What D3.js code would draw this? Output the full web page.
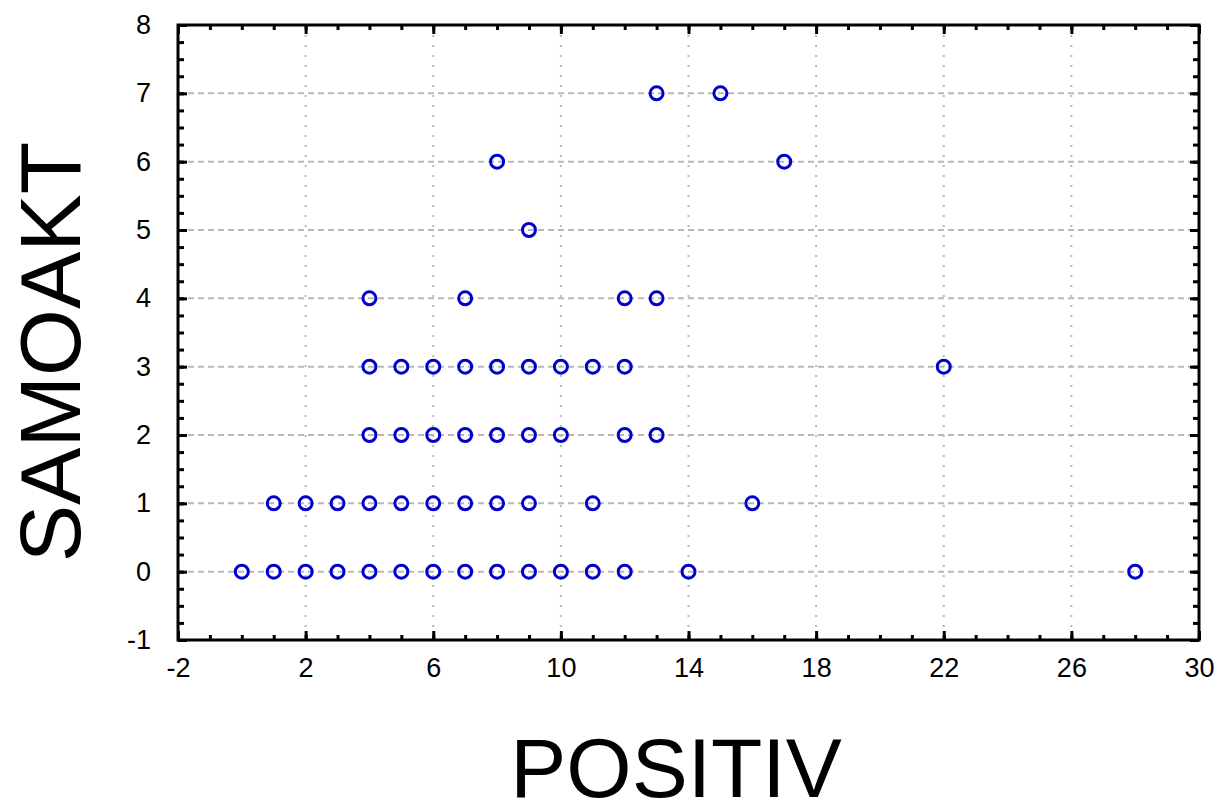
<!DOCTYPE html>
<html lang="en">
<head>
<meta charset="UTF-8">
<title>SAMOAKT vs POSITIV</title>
<script src="https://cdn.jsdelivr.net/npm/d3@7"></script>
<style>
  body { margin: 0; background: #fff; }
  svg { display: block; }
  .tick text { font-family: "Liberation Sans", Arial, sans-serif; font-size: 27px; fill: #000; }
  .tick line { stroke: #000; stroke-width: 3; }
</style>
</head>
<body>
<script>

var w = 1216;
var h = 805;

// POSITIV (x) and SAMOAKT (y) pairs
var positiv = [13, 15,
               8, 17,
               9,
               4, 7, 12, 13,
               4, 5, 6, 7, 8, 9, 10, 11, 12, 22,
               4, 5, 6, 7, 8, 9, 10, 12, 13,
               1, 2, 3, 4, 5, 6, 7, 8, 9, 11, 16,
               0, 1, 2, 3, 4, 5, 6, 7, 8, 9, 10, 11, 12, 14, 28];
var samoakt = [7, 7,
               6, 6,
               5,
               4, 4, 4, 4,
               3, 3, 3, 3, 3, 3, 3, 3, 3, 3,
               2, 2, 2, 2, 2, 2, 2, 2, 2,
               1, 1, 1, 1, 1, 1, 1, 1, 1, 1, 1,
               0, 0, 0, 0, 0, 0, 0, 0, 0, 0, 0, 0, 0, 0, 0];

var xTicks = [-2, 2, 6, 10, 14, 18, 22, 26, 30];
var yTicks = [-1, 0, 1, 2, 3, 4, 5, 6, 7, 8];
var xMinor = d3.range(-2, 30.01, 1);
var yMinor = d3.range(-1, 8.01, 0.25);

var pLeft = 178, pRight = 1199, pTop = 25, pBottom = 640;

var x = d3.scaleLinear().domain([-2, 30]).range([pLeft, pRight]);
var y = d3.scaleLinear().domain([-1, 8]).range([pBottom, pTop]);

var svg = d3.select("body").append("svg")
    .attr("width", w)
    .attr("height", h);

// grid: dashed horizontals, dotted verticals
svg.append("g").selectAll("line")
    .data(yTicks.filter(function(d) { return d > -1 && d < 8; }))
    .enter().append("line")
    .attr("x1", pLeft).attr("x2", pRight)
    .attr("y1", function(d) { return y(d); })
    .attr("y2", function(d) { return y(d); })
    .attr("stroke", "#b8b8b8")
    .attr("stroke-width", 2)
    .attr("stroke-dasharray", "6,4");

svg.append("g").selectAll("line")
    .data(xTicks.filter(function(d) { return d > -2 && d < 30; }))
    .enter().append("line")
    .attr("y1", pTop).attr("y2", pBottom)
    .attr("x1", function(d) { return x(d); })
    .attr("x2", function(d) { return x(d); })
    .attr("stroke", "#b8b8b8")
    .attr("stroke-width", 2)
    .attr("stroke-dasharray", "2,8");

// minor ticks on all four sides (pointing inwards)
function noDomain(g) { g.select(".domain").remove(); }
var label = function(d) { return String(d); };

svg.append("g").attr("transform", "translate(0," + pBottom + ")")
    .call(d3.axisBottom(x).tickValues(xMinor).tickSize(-5).tickFormat("")).call(noDomain);
svg.append("g").attr("transform", "translate(0," + pTop + ")")
    .call(d3.axisTop(x).tickValues(xMinor).tickSize(-5).tickFormat("")).call(noDomain);
svg.append("g").attr("transform", "translate(" + pLeft + ",0)")
    .call(d3.axisLeft(y).tickValues(yMinor).tickSize(-6).tickFormat("")).call(noDomain);
svg.append("g").attr("transform", "translate(" + pRight + ",0)")
    .call(d3.axisRight(y).tickValues(yMinor).tickSize(-6).tickFormat("")).call(noDomain);

// major ticks + labels
svg.append("g").attr("transform", "translate(0," + pBottom + ")")
    .call(d3.axisBottom(x).tickValues(xTicks).tickSize(-9).tickPadding(18).tickFormat(label))
    .call(noDomain);
svg.append("g").attr("transform", "translate(0," + pTop + ")")
    .call(d3.axisTop(x).tickValues(xTicks).tickSize(-9).tickFormat("")).call(noDomain);
svg.append("g").attr("transform", "translate(" + pLeft + ",0)")
    .call(d3.axisLeft(y).tickValues(yTicks).tickSize(-9).tickPadding(27).tickFormat(label))
    .call(noDomain);
svg.append("g").attr("transform", "translate(" + pRight + ",0)")
    .call(d3.axisRight(y).tickValues(yTicks).tickSize(-9).tickFormat("")).call(noDomain);

// frame
svg.append("rect")
    .attr("x", pLeft).attr("y", pTop)
    .attr("width", pRight - pLeft).attr("height", pBottom - pTop)
    .attr("fill", "none")
    .attr("stroke", "#000")
    .attr("stroke-width", 3);

// points
svg.append("g").selectAll("circle")
    .data(positiv)
    .enter().append("circle")
    .attr("cx", function(d) { return x(d); })
    .attr("cy", function(d, i) { return y(samoakt[i]); })
    .attr("r", 6.5)
    .attr("fill", "none")
    .attr("stroke", "#0000cc")
    .attr("stroke-width", 3);

// axis titles
svg.append("text")
    .text("POSITIV")
    .attr("x", 676)
    .attr("y", 797)
    .attr("text-anchor", "middle")
    .attr("font-family", "Liberation Sans, Arial, sans-serif")
    .attr("font-size", "84px");

svg.append("text")
    .text("SAMOAKT")
    .attr("transform", "translate(80,352) rotate(-90)")
    .attr("text-anchor", "middle")
    .attr("font-family", "Liberation Sans, Arial, sans-serif")
    .attr("font-size", "86px");

</script>
</body>
</html>
